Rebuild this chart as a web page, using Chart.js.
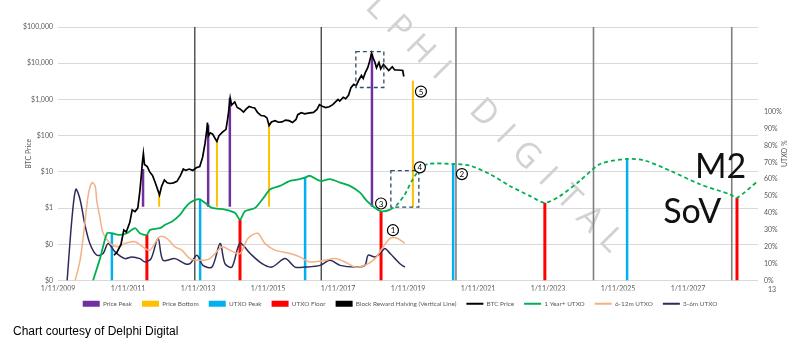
<!DOCTYPE html>
<html>
<head>
<meta charset="utf-8">
<script src="https://cdn.jsdelivr.net/npm/chart.js@4.4.0/dist/chart.umd.min.js"></script>
<style>
  html, body { margin: 0; padding: 0; background: #fff; }
  #wrap { width: 800px; height: 353px; position: relative; }
</style>
</head>
<body>
<div id="wrap"><canvas id="chart"></canvas></div>
<script>
// axis ticks
const yearTicks = [2009, 2011, 2013, 2015, 2017, 2019, 2021, 2023, 2025, 2027]
const priceTicks = [0.01, 0.1, 1, 10, 100, 1000, 10000, 100000]
const priceTickLabels = ['$0', '$0', '$1', '$10', '$100', '$1,000', '$10,000', '$100,000']
const utxoTicks = [0, 10, 20, 30, 40, 50, 60, 70, 80, 90, 100]

// BTC price (USD)
const priceYears = [
  2010.60, 2010.68, 2010.80, 2010.88, 2010.95, 2011.05, 2011.12, 2011.20, 2011.28, 2011.34,
  2011.38, 2011.41, 2011.44, 2011.47, 2011.55, 2011.62, 2011.70, 2011.78, 2011.86, 2011.90,
  2011.96, 2012.04, 2012.12, 2012.20, 2012.30, 2012.40, 2012.50, 2012.58, 2012.65, 2012.75,
  2012.85, 2012.95, 2013.05, 2013.13, 2013.20, 2013.25, 2013.27, 2013.30, 2013.35, 2013.42,
  2013.50, 2013.54, 2013.60, 2013.70, 2013.80, 2013.86, 2013.92, 2013.96, 2014.05, 2014.12,
  2014.20, 2014.30, 2014.38, 2014.46, 2014.55, 2014.62, 2014.70, 2014.80, 2014.90, 2014.97,
  2015.03, 2015.10, 2015.20, 2015.30, 2015.40, 2015.50, 2015.60, 2015.70, 2015.80, 2015.85,
  2015.95, 2016.05, 2016.15, 2016.30, 2016.40, 2016.47, 2016.55, 2016.65, 2016.75, 2016.85,
  2016.95, 2017.00, 2017.05, 2017.15, 2017.22, 2017.30, 2017.37, 2017.45, 2017.52, 2017.60,
  2017.67, 2017.72, 2017.78, 2017.85, 2017.90, 2017.96, 2018.00, 2018.05, 2018.10, 2018.17,
  2018.22, 2018.30, 2018.38, 2018.45, 2018.55, 2018.62, 2018.70, 2018.80, 2018.85, 2018.88
]
const priceValues = [
  0.05, 0.06, 0.10, 0.25, 0.22, 0.40, 0.90, 0.80, 1.0, 3,
  8, 18, 32, 16, 14, 10, 8, 5, 3, 2.3,
  4, 6, 5, 4.8, 5, 5.5, 8, 12, 11, 12,
  11, 13, 14, 25, 60, 140, 230, 100, 120, 110,
  80, 70, 100, 125, 150, 350, 1100, 700, 850, 600,
  550, 450, 550, 640, 600, 580, 440, 360, 350, 310,
  190, 240, 260, 235, 240, 270, 260, 230, 280, 380,
  430, 400, 420, 440, 530, 720, 650, 600, 630, 720,
  900, 1000, 900, 1150, 1050, 1300, 2100, 2600, 2400, 3500,
  4600, 3800, 5500, 7500, 11000, 19000, 14000, 11000, 7500, 10500,
  7000, 9300, 7500, 6300, 8000, 6500, 6500, 6400, 6300, 4300
]

// 1 Year+ UTXO (%), dashed after projectionStart
const longYears = [
  2010.00, 2010.20, 2010.40, 2010.54, 2010.77, 2010.97, 2011.20, 2011.34, 2011.54, 2011.63,
  2011.91, 2012.06, 2012.26, 2012.49, 2012.63, 2012.77, 2012.97, 2013.06, 2013.20, 2013.40,
  2013.77, 2014.06, 2014.20, 2014.34, 2014.63, 2014.91, 2015.06, 2015.34, 2015.63, 2015.91,
  2016.06, 2016.20, 2016.49, 2016.77, 2017.06, 2017.34, 2017.63, 2017.83, 2018.06, 2018.23,
  2018.49, 2018.69, 2018.91, 2019.11, 2019.34, 2019.57, 2020.29, 2020.77, 2021.34, 2021.91,
  2022.49, 2022.91, 2023.34, 2023.91, 2024.49, 2025.26, 2025.77, 2026.49, 2027.34, 2028.20,
  2028.40, 2029.00
]
const longValues = [
  0, 13, 28, 28, 27, 28, 31, 28, 27, 30,
  31, 33, 35, 39, 43, 46, 48, 48, 46, 43,
  42, 40, 36, 41, 43, 50, 54, 56, 59, 60,
  61, 62, 59, 60, 58, 56, 52, 47, 43, 41,
  42, 45, 51, 59, 66, 69, 69, 68, 63, 56,
  50, 46, 50, 59, 69, 72, 71, 65, 57, 51,
  49, 59
]
const projectionStart = 2018.49

// 6-12m UTXO (%)
const midYears = [
  2009.49, 2009.63, 2009.74, 2009.86, 2009.97, 2010.06, 2010.11, 2010.20, 2010.29, 2010.49,
  2010.71, 2010.91, 2011.20, 2011.49, 2011.63, 2011.91, 2012.11, 2012.34, 2012.54, 2012.77,
  2013.06, 2013.34, 2013.69, 2013.91, 2014.20, 2014.43, 2014.71, 2014.91, 2015.20, 2015.63,
  2015.91, 2016.20, 2016.63, 2016.91, 2017.20, 2017.49, 2017.77, 2018.06, 2018.26, 2018.49,
  2018.69, 2018.91
]
const midValues = [
  0, 12, 29, 50, 58, 56, 47, 37, 28, 22,
  20, 22, 23, 19, 18, 26, 25, 20, 18, 13,
  12, 13, 20, 18, 16, 25, 28, 22, 18, 16,
  14, 11, 12, 13, 11, 8, 9, 13, 19, 25,
  25, 22
]

// 3-6m UTXO (%)
const shortYears = [
  2009.26, 2009.40, 2009.51, 2009.63, 2009.77, 2009.91, 2010.11, 2010.29, 2010.43, 2010.63,
  2010.91, 2011.11, 2011.34, 2011.49, 2011.66, 2011.86, 2012.00, 2012.34, 2012.63, 2012.77,
  2012.97, 2013.14, 2013.40, 2013.63, 2013.77, 2013.97, 2014.20, 2014.49, 2014.83, 2015.11,
  2015.49, 2015.77, 2016.06, 2016.49, 2016.77, 2017.06, 2017.49, 2017.77, 2017.86, 2018.06,
  2018.20, 2018.34, 2018.49, 2018.63, 2018.77, 2018.91
]
const shortValues = [
  0, 37, 54, 48, 33, 22, 15, 16, 22, 17,
  13, 14, 13, 11, 13, 25, 12, 13, 10, 10,
  15, 9, 8, 22, 10, 8, 22, 16, 10, 8,
  13, 8, 8, 9, 12, 9, 8, 9, 15, 14,
  16, 19, 16, 13, 10, 8
]

// vertical markers
const pricePeakYears = [2011.43, 2013.29, 2013.91, 2017.97]
const pricePeakTops = [12, 200, 1100, 18000]
const priceBottomYears = [2011.89, 2013.54, 2015.03, 2019.14]
const priceBottomTops = [2.5, 70, 200, 3300]
const priceBarBase = 1.1
const utxoPeakYears = [2010.54, 2013.06, 2016.06, 2020.29, 2025.26]
const utxoPeakTops = [28, 48, 61, 69, 72]
const utxoFloorYears = [2011.54, 2014.20, 2018.23, 2022.91, 2028.40]
const utxoFloorTops = [27, 36, 41, 46, 49]
const halvingYears = [2012.91, 2016.52, 2020.37, 2024.30, 2028.25]

// annotations
const boxYears = [[2017.51, 2018.31], [2018.51, 2019.31]]
const boxLevels = [[2140, 21000], [43.5, 65]]
const boxAxes = ['y', 'y1']
const calloutLabels = ['1', '2', '3', '4', '5']
const calloutYears = [2018.57, 2020.54, 2018.23, 2019.34, 2019.37]
const calloutLevels = [29.8, 63, 45.6, 67, 111.8]
const watermark = 'DELPHI DIGITAL'

const grey = '#595959'
const small = {family: 'Lato', size: 7}

function series(xs, ys) {
  return xs.map((x, i) => ({x: x, y: ys[i]}))
}

function bars(xs, tops, base) {
  let pts = []
  for (let i = 0; i < xs.length; i++) {
    pts.push({x: xs[i], y: base}, {x: xs[i], y: tops[i]}, {x: xs[i], y: null})
  }
  return pts
}

function lineSet(label, data, color, width, axis, extra) {
  return Object.assign({
    type: 'line', label: label, data: data, yAxisID: axis,
    borderColor: color, backgroundColor: color, borderWidth: width,
    pointRadius: 0, pointHoverRadius: 0, fill: false, tension: 0,
    borderCapStyle: 'butt'
  }, extra || {})
}

const datasets = [
  lineSet('Price Peak', bars(pricePeakYears, pricePeakTops, priceBarBase), '#7030A0', 2.5, 'y', {legendStyle: 'rect', order: 5}),
  lineSet('Price Bottom', bars(priceBottomYears, priceBottomTops, priceBarBase), '#FFC000', 2, 'y', {legendStyle: 'rect', order: 5}),
  lineSet('UTXO Peak', bars(utxoPeakYears, utxoPeakTops, 0), '#00B0F0', 2.5, 'y1', {legendStyle: 'rect', order: 5}),
  lineSet('UTXO Floor', bars(utxoFloorYears, utxoFloorTops, 0), '#FF0000', 3, 'y1', {legendStyle: 'rect', order: 5}),
  lineSet('Block Reward Halving (Vertical Line)', bars(halvingYears, halvingYears.map(() => 150), 0), '#000000', 1, 'y1', {
    legendStyle: 'rect', order: 6,
    segment: {
      borderColor: ctx => ctx.p0.parsed.x > 2019 ? '#7f7f7f' : '#000000',
      borderWidth: ctx => ctx.p0.parsed.x > 2019 ? 1.6 : 1
    }
  }),
  lineSet('BTC Price', series(priceYears, priceValues), '#000000', 1.7, 'y', {legendStyle: 'line', order: 1}),
  lineSet('1 Year+ UTXO', series(longYears, longValues), '#00B050', 1.8, 'y1', {
    legendStyle: 'line', order: 2, tension: 0.25,
    segment: { borderDash: ctx => ctx.p0.parsed.x >= projectionStart ? [4, 3] : undefined }
  }),
  lineSet('6-12m UTXO', series(midYears, midValues), '#F4B183', 1.5, 'y1', {legendStyle: 'line', order: 3, tension: 0.3}),
  lineSet('3-6m UTXO', series(shortYears, shortValues), '#2E2A5A', 1.5, 'y1', {legendStyle: 'line', order: 3, tension: 0.3})
]

const decor = {
  id: 'decor',
  beforeDatasetsDraw(chart) {
    const ctx = chart.ctx
    ctx.save()
    ctx.fillStyle = '#d2d2d2'
    ctx.font = '34px "Open Sans"'
    ctx.textAlign = 'center'
    ctx.textBaseline = 'middle'
    const ang = 45 * Math.PI / 180
    for (let i = 0; i < watermark.length; i++) {
      const d = i * 30
      ctx.save()
      ctx.translate(335 + d * Math.cos(ang), -35 + d * Math.sin(ang))
      ctx.rotate(ang)
      ctx.fillText(watermark[i], 0, 0)
      ctx.restore()
    }
    ctx.restore()
  },
  afterDatasetsDraw(chart) {
    const ctx = chart.ctx
    const x = chart.scales.x
    ctx.save()
    ctx.strokeStyle = '#2F4B6E'
    ctx.lineWidth = 1.3
    ctx.setLineDash([4, 3])
    for (let i = 0; i < boxYears.length; i++) {
      const ys = chart.scales[boxAxes[i]]
      const x0 = x.getPixelForValue(boxYears[i][0]), x1 = x.getPixelForValue(boxYears[i][1])
      const y0 = ys.getPixelForValue(boxLevels[i][1]), y1 = ys.getPixelForValue(boxLevels[i][0])
      ctx.strokeRect(x0, y0, x1 - x0, y1 - y0)
    }
    ctx.setLineDash([])
    ctx.font = '8px Lato'
    ctx.textAlign = 'center'
    ctx.textBaseline = 'middle'
    for (let i = 0; i < calloutLabels.length; i++) {
      const cx = x.getPixelForValue(calloutYears[i])
      const cy = chart.scales.y1.getPixelForValue(calloutLevels[i])
      ctx.beginPath()
      ctx.arc(cx, cy, 5.5, 0, Math.PI * 2)
      ctx.fillStyle = '#fff'
      ctx.fill()
      ctx.lineWidth = 1.2
      ctx.strokeStyle = '#000'
      ctx.stroke()
      ctx.fillStyle = '#000'
      ctx.fillText(calloutLabels[i], cx, cy + 0.5)
    }
    ctx.font = '34px Lato'
    ctx.textAlign = 'left'
    ctx.textBaseline = 'alphabetic'
    ctx.fillStyle = '#111'
    ctx.fillText('M2', x.getPixelForValue(2027.2), chart.scales.y1.getPixelForValue(60.6))
    ctx.fillText('SoV', x.getPixelForValue(2026.29), chart.scales.y1.getPixelForValue(34))
    ctx.restore()
  },
  afterDraw(chart) {
    const ctx = chart.ctx
    const area = chart.chartArea
    ctx.save()
    ctx.fillStyle = grey
    ctx.font = '7px Lato'
    ctx.textAlign = 'center'
    ctx.textBaseline = 'middle'
    ctx.fillText('13', area.right + 14, area.bottom + 9)
    ctx.translate(chart.scales.y1.right - 15, (area.top + area.bottom) / 2)
    ctx.rotate(-Math.PI / 2)
    ctx.fillText('UTXO %', 0, 0)
    ctx.restore()
    ctx.save()
    ctx.fillStyle = '#000'
    ctx.font = '12px "Liberation Sans"'
    ctx.textBaseline = 'alphabetic'
    ctx.fillText('Chart courtesy of Delphi Digital', 13, 335)
    ctx.restore()
  }
}

new Chart(document.getElementById('chart'), {
  type: 'line',
  data: { datasets: datasets },
  plugins: [decor],
  options: {
    responsive: true,
    maintainAspectRatio: false,
    animation: false,
    devicePixelRatio: 1,
    events: [],
    layout: { padding: { top: 27, bottom: 36, left: 0, right: 0 } },
    scales: {
      x: {
        type: 'linear', min: 2009, max: 2029,
        afterBuildTicks: s => { s.ticks = yearTicks.map(v => ({value: v})) },
        afterFit: s => { s.height = 10 },
        ticks: { callback: v => '1/11/' + v, color: grey, font: small, padding: 4, maxRotation: 0, autoSkip: false },
        grid: { display: false, drawTicks: false },
        border: { display: false }
      },
      y: {
        type: 'logarithmic', position: 'left', min: 0.01, max: 100000,
        afterBuildTicks: s => { s.ticks = priceTicks.map(v => ({value: v})) },
        afterFit: s => { s.width = 58 },
        ticks: { callback: (v, i) => priceTickLabels[i], color: grey, font: small, padding: 5 },
        grid: { color: '#d9d9d9', lineWidth: 1, drawTicks: false },
        border: { display: false },
        title: { display: true, text: 'BTC Price', color: grey, font: small, padding: { top: 25, bottom: 0 } }
      },
      y1: {
        type: 'linear', position: 'right', min: 0, max: 150,
        afterBuildTicks: s => { s.ticks = utxoTicks.map(v => ({value: v})) },
        afterFit: s => { s.width = 42 },
        ticks: { callback: v => v + '%', color: grey, font: small, padding: 6 },
        grid: { display: false, drawTicks: false },
        border: { display: false }
      }
    },
    plugins: {
      tooltip: { enabled: false },
      legend: {
        position: 'bottom',
        labels: {
          usePointStyle: true, pointStyleWidth: 17, boxHeight: 6, padding: 10,
          color: grey, font: {family: 'Lato', size: 6.4},
          generateLabels: chart => chart.data.datasets.map((ds, i) => ({
            text: ds.label,
            fillStyle: ds.borderColor,
            strokeStyle: ds.borderColor,
            lineWidth: ds.legendStyle === 'rect' ? 0 : 2,
            pointStyle: ds.legendStyle,
            datasetIndex: i,
            hidden: false,
            fontColor: grey
          }))
        }
      }
    }
  }
})
</script>
</body>
</html>
